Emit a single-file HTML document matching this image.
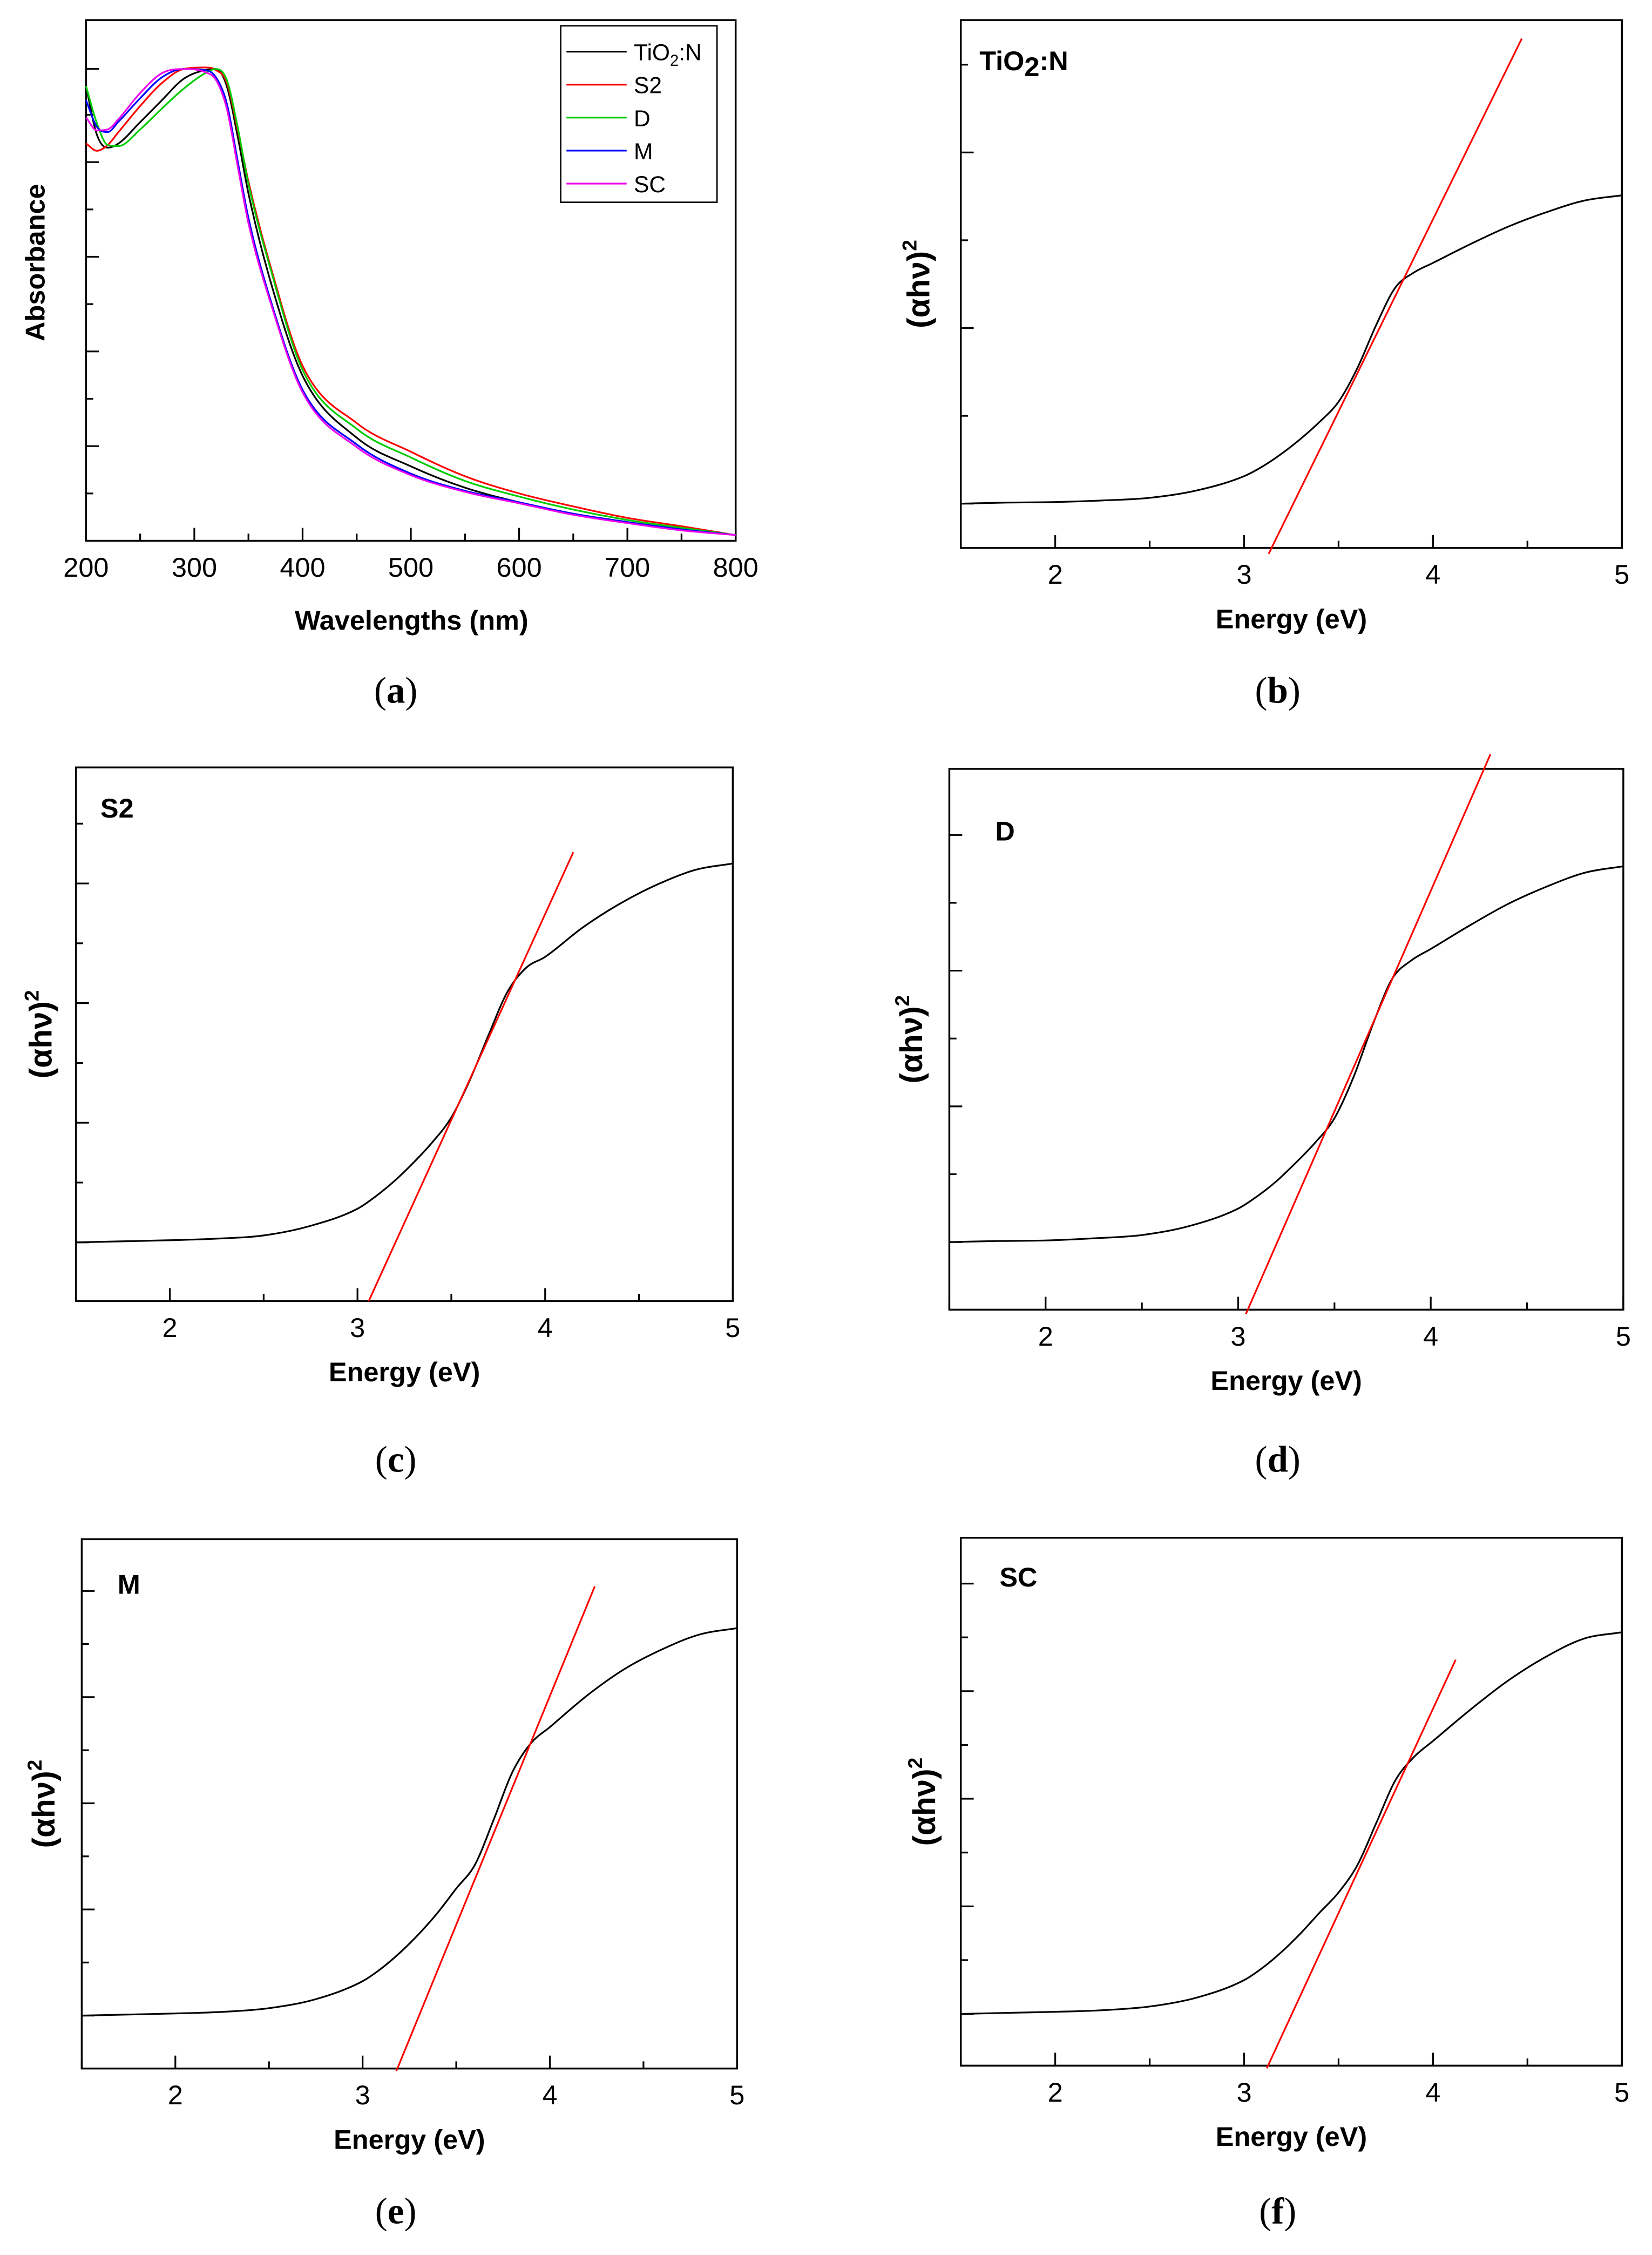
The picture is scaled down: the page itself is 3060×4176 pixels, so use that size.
<!DOCTYPE html>
<html><head><meta charset="utf-8"><style>
html,body{margin:0;padding:0;background:#fff}
svg{display:block}
text{font-family:"Liberation Sans",sans-serif}
text.serif{font-family:"Liberation Serif",serif}
</style></head><body>
<svg id="fig" xmlns="http://www.w3.org/2000/svg" width="3060" height="4176" viewBox="0 0 1152 1572" preserveAspectRatio="none"></svg>
<script>
// ---------- Panel (a) data ----------
const wavelengths = [200,210,220,230,250,270,290,310,320,330,340,350,370,400,450,500,550,600,650,700,750,800];
const absTiO2N = [87.3,78,75.5,76.3,80.4,84.6,88.7,90.4,90.6,87.3,77.7,66.7,50.1,31.7,19.8,14.3,10.2,7.4,5.2,3.6,2.2,1.1];
const absS2 = [76.3,74.9,76.0,78.5,83.5,87.9,90.6,90.9,90.4,88.0,79.0,69.0,53.0,33.6,22.6,17.1,12.4,9.1,6.6,4.4,2.8,1.1];
const absD = [87.3,80.2,76.0,75.8,79.0,83.0,86.8,89.8,90.6,88.5,79.5,68.5,52.5,32.8,21.5,16.0,11.5,8.5,6.0,4.0,2.5,1.1];
const absM = [84.6,79.5,78.5,80.5,85.0,89.0,90.6,90.4,89.0,84.0,73.0,62.0,46.5,29.0,18.5,12.9,9.6,7.4,5.2,3.6,2.2,1.1];
const absSC = [81.3,78.8,79.0,81.0,86.0,89.8,90.6,90.0,88.5,83.0,72.0,61.0,46.0,28.5,18.0,12.6,9.4,7.2,5.0,3.4,2.0,1.1];
const seriesNames = ["TiO2:N","S2","D","M","SC"];
const wlTicks = [200,300,400,500,600,700,800];
// ---------- Tauc panels data ----------
const energies = [1.5,1.75,2,2.25,2.5,2.75,3,3.1,3.2,3.3,3.4,3.5,3.6,3.7,3.8,3.9,4,4.2,4.4,4.6,4.8,5];
const taucB = [8.4,8.6,8.7,9.0,9.5,10.9,13.6,15.5,17.9,20.7,23.9,27.7,34.1,42.3,49.3,52.2,54.0,57.6,60.9,63.6,65.8,66.8];
const taucC = [11.0,11.2,11.4,11.7,12.3,14.1,17.3,19.7,22.6,26.0,29.8,34.4,41.5,50.0,58.0,62.5,64.5,70.0,74.5,78.1,80.8,82.0];
const taucD = [12.5,12.7,12.8,13.2,13.8,15.5,18.7,21.0,23.8,27.2,30.9,35.4,43.1,52.8,61.2,64.6,66.7,71.0,75.0,78.2,80.8,82.0];
const taucE = [10.0,10.2,10.4,10.7,11.4,13.1,16.5,18.9,21.9,25.4,29.4,34.0,38.5,47.0,56.0,61.5,64.5,70.5,75.5,79.2,82.0,83.2];
const taucF = [9.8,10.0,10.2,10.5,11.2,12.9,16.2,18.6,21.6,25.1,29.0,32.8,38.0,46.0,54.0,58.5,61.5,67.5,73.0,77.5,80.9,82.1];
const fitB = [[3.13,-1.1],[4.47,96.5]];
const fitC = [[3.06,0],[4.15,84.1]];
const fitD = [[3.04,-0.8],[4.31,102.7]];
const fitE = [[3.18,-0.5],[4.24,91.1]];
const fitF = [[3.12,-0.5],[4.12,76.9]];
const eTicks = [2,3,4,5];

const NS="http://www.w3.org/2000/svg";
const svg=document.getElementById('fig');
function mk(tag,attrs,parent){const e=document.createElementNS(NS,tag);for(const k in attrs)e.setAttribute(k,attrs[k]);(parent||svg).appendChild(e);return e;}
// monotone cubic (Fritsch-Carlson)
function smooth(p){
  const n=p.length,d=[],m=[];
  for(let i=0;i<n-1;i++)d.push((p[i+1][1]-p[i][1])/(p[i+1][0]-p[i][0]));
  m[0]=d[0];m[n-1]=d[n-2];
  for(let i=1;i<n-1;i++){m[i]=(d[i-1]*d[i]<=0)?0:(d[i-1]+d[i])/2;}
  for(let i=0;i<n-1;i++){if(d[i]===0){m[i]=0;m[i+1]=0;continue;}const a=m[i]/d[i],b=m[i+1]/d[i],s=a*a+b*b;if(s>9){const t=3/Math.sqrt(s);m[i]=t*a*d[i];m[i+1]=t*b*d[i];}}
  let s=`M${p[0][0]},${p[0][1]}`;
  for(let i=0;i<n-1;i++){const h=(p[i+1][0]-p[i][0])/3;s+=`C${p[i][0]+h},${p[i][1]+m[i]*h} ${p[i+1][0]-h},${p[i+1][1]-m[i+1]*h} ${p[i+1][0]},${p[i+1][1]}`;}
  return s;
}
function frame(g,L,T,R,B){
  const r=mk('rect',{x:L,y:T,width:R-L,height:B-T,fill:'none',stroke:'#000','stroke-width':1.3},g);
  
  
}

// ---------- Panel a ----------
(function(){
  const L=60,T=14,R=513,B=377;
  const g=mk('g',{});
  
  
  const xs=v=>L+(v-200)/600*(R-L), ys=v=>B-v/100*(B-T);
  frame(g,L,T,R,B);
  for(let w=200;w<=800;w+=50){const x=xs(w);const len=w%100?5:9;
    const t=mk('line',{x1:x,y1:B,x2:x,y2:B-len,stroke:'#000','stroke-width':1.2},g);
    
    }
  [48,80,113,146,179,212,245,278,311,344].forEach((y,i)=>{const t=mk('line',{x1:L,y1:y,x2:L+(i%2?5:9),y2:y,stroke:'#000','stroke-width':1.2},g);
    
    });
  wlTicks.forEach(w=>{const t=mk('text',{x:xs(w),y:402,'font-size':19,'text-anchor':'middle'},g);t.textContent=w;
    
    });
  const xt=mk('text',{x:287,y:439,'font-size':19,'font-weight':'bold','text-anchor':'middle'},g);xt.textContent='Wavelengths (nm)';
  
  
  const yt=mk('text',{x:0,y:0,'font-size':19,'font-weight':'bold','text-anchor':'middle',transform:'translate(31,183) rotate(-90)'},g);yt.textContent='Absorbance';
  
  
  const data=[absTiO2N,absS2,absD,absM,absSC],cols=['#000','#f00','#0c0','#00f','#e0e'];
  data.forEach((arr,k)=>{const p=mk('path',{d:smooth(wavelengths.map((w,i)=>[xs(w),ys(arr[i])])),fill:'none',stroke:cols[k],'stroke-width':1.2},g);
    
    });
  const lg=mk('g',{},g);
  
  
  mk('rect',{x:391,y:18,width:109,height:123,fill:'#fff',stroke:'#000','stroke-width':1},lg);
  seriesNames.forEach((n,k)=>{const y=36+k*23;
    const e=mk('g',{},lg);
    
    
    mk('line',{x1:395,y1:y,x2:437,y2:y,stroke:cols[k],'stroke-width':1.2},e);
    const t=mk('text',{x:442,y:y+6,'font-size':16},e);
    if(n==='TiO2:N'){t.innerHTML='TiO<tspan font-size="11" dy="4">2</tspan><tspan dy="-4">:N</tspan>';}else t.textContent=n;});
  const pl=mk('text',{x:276,y:490,'font-size':26,'text-anchor':'middle','class':'serif'},g);
  pl.innerHTML='(<tspan font-weight="bold">a</tspan>)';
  
  
})();

// ---------- Tauc panels ----------
function tauc(c){
  const g=mk('g',{});
  
  
  const {L,T,R,B}=c;
  const xs=v=>L+(v-1.5)/3.5*(R-L), ys=v=>B-v/100*(B-T);
  frame(g,L,T,R,B);
  for(let e=1.5;e<=5.001;e+=0.5){const x=xs(e);const len=Math.abs(e-Math.round(e))<0.01?9:5;
    const t=mk('line',{x1:x,y1:B,x2:x,y2:B-len,stroke:'#000','stroke-width':1.2},g);
    
    }
  const y0=ys(c.data[0]);
  for(let i=0;i<=c.ny;i++){const y=y0-i*c.dy;if(y<T+5)break;
    const t=mk('line',{x1:L,y1:y,x2:L+(i%2?5:9),y2:y,stroke:'#000','stroke-width':1.2},g);
    
    }
  eTicks.forEach(e=>{const t=mk('text',{x:xs(e),y:B+25,'font-size':19,'text-anchor':'middle'},g);t.textContent=e;
    
    });
  const xt=mk('text',{x:(L+R)/2,y:B+56,'font-size':19,'font-weight':'bold','text-anchor':'middle'},g);xt.textContent='Energy (eV)';
  
  
  const yt=mk('text',{x:0,y:0,'font-size':22,'font-weight':'bold','text-anchor':'middle',transform:`translate(${c.yl},${(T+B)/2}) rotate(-90)`},g);
  yt.innerHTML='(αhν)<tspan font-size="14" dy="-9">2</tspan>';
  
  
  const lb=mk('text',{x:c.lx,y:c.ly,'font-size':19,'font-weight':'bold'},g);
  if(c.name==='TiO2:N')lb.innerHTML='TiO<tspan dy="4">2</tspan><tspan dy="-4">:N</tspan>';else lb.textContent=c.name;
  
  
  const cv=mk('path',{d:smooth(energies.map((e,i)=>[xs(e),ys(c.data[i])])),fill:'none',stroke:'#000','stroke-width':1.2},g);
  
  
  const f=c.fit;
  const fl=mk('line',{x1:xs(f[0][0]),y1:ys(f[0][1]),x2:xs(f[1][0]),y2:ys(f[1][1]),stroke:'#f00','stroke-width':1.2},g);
  
  
  const pl=mk('text',{x:c.px,y:c.py,'font-size':26,'text-anchor':'middle','class':'serif'},g);
  pl.innerHTML='(<tspan font-weight="bold">'+c.id+'</tspan>)';
  
  
}
tauc({id:'b',name:'TiO2:N',L:670,T:14,R:1131,B:382,ny:6,dy:61.2,yl:648,lx:683,ly:49,px:891,py:490,data:taucB,fit:fitB});
tauc({id:'c',name:'S2',L:53,T:535,R:511,B:907,ny:8,dy:41.7,yl:36,lx:70,ly:570,px:276,py:1026,data:taucC,fit:fitC});
tauc({id:'d',name:'D',L:662,T:536,R:1132,B:913,ny:8,dy:47.3,yl:643,lx:694,ly:586,px:891,py:1026,data:taucD,fit:fitD});
tauc({id:'e',name:'M',L:57,T:1073,R:514,B:1442,ny:9,dy:37,yl:38,lx:82,ly:1111,px:276,py:1550,data:taucE,fit:fitE});
tauc({id:'f',name:'SC',L:670,T:1072,R:1131,B:1440,ny:9,dy:37.5,yl:652,lx:697,ly:1106,px:891,py:1550,data:taucF,fit:fitF});
</script>
</body></html>
